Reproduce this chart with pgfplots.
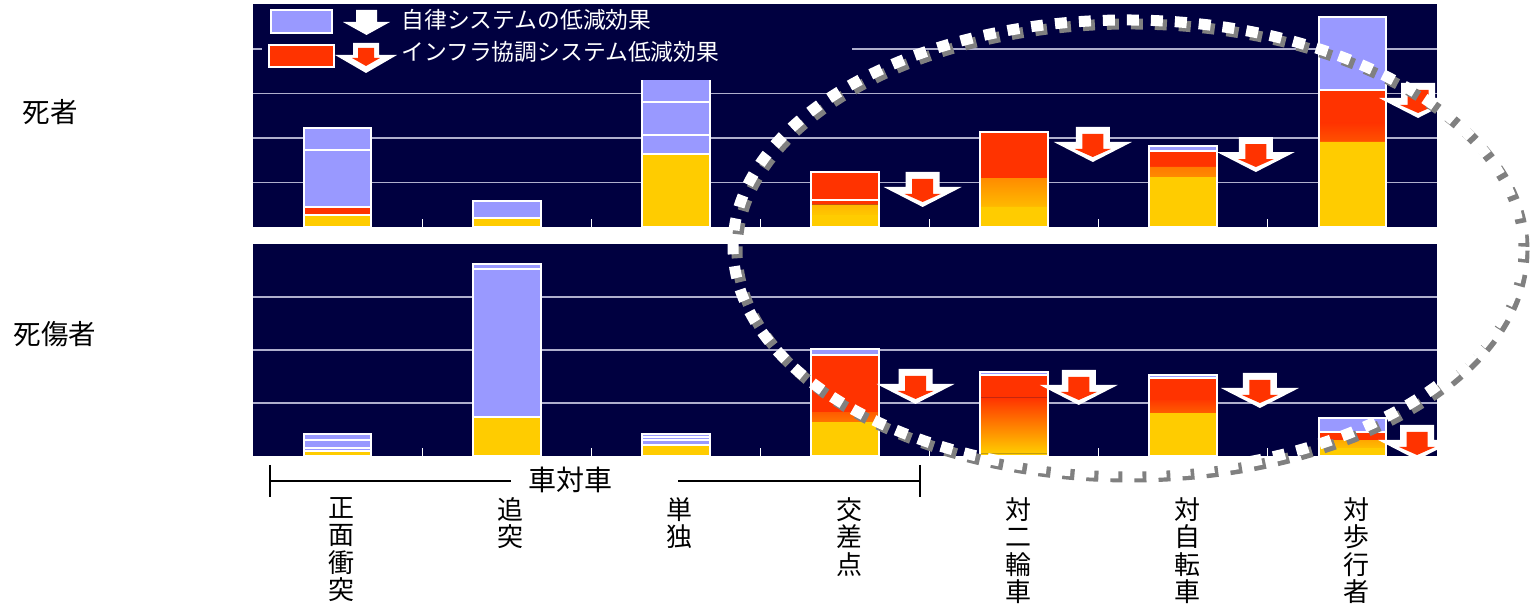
\documentclass[border=0pt]{standalone}
\usepackage{fontspec}
\setmainfont{Noto Sans CJK JP}
\usepackage{pgfplots}
\pgfplotsset{compat=1.18}
\usepackage{pgfplotstable}

\definecolor{navybg}{RGB}{0,0,64}
\definecolor{cyel}{RGB}{255,204,0}
\definecolor{cred}{RGB}{255,51,0}
\definecolor{clav}{RGB}{153,153,255}
\definecolor{cgrid}{RGB}{175,175,205}

% stacked segments: yellow, gradient (yellow->red), red, lavender
\pgfplotstableread{
x Y G R L
0 0.28 0.001 0.17 1.77
1 0.20 0.001 0 0.38
2 1.64 0.001 0 1.78
3 0.27 0.23 0.73 0
4 0.45 0.65 1.03 0
5 1.12 0.23 0.36 0.11
6 1.91 0.43 0.72 1.66
}\toptab
\pgfplotstableread{
x y
0 0.28
0 0.45
0 1.73
0 2.22
1 0.20
1 0.58
2 1.64
2 2.07
2 2.82
2 3.42
3 0.60
3 1.23
4 2.13
5 1.71
5 1.82
6 3.08
6 4.72
}\topout
\pgfplotstableread{
x Y G R L
0 0.09 0.001 0 0.32
1 0.74 0.001 0 2.88
2 0.21 0.001 0 0.20
3 0.64 0.19 1.08 0.11
4 0.05 1.05 0.43 0.05
5 0.81 0.25 0.41 0.06
6 0.15 0.15 0.15 0.27
}\bottab
\pgfplotstableread{
x y
0 0.09
0 0.15
0 0.30
0 0.41
1 0.74
1 3.53
1 3.62
2 0.21
2 0.30
2 0.36
2 0.41
3 1.91
3 2.02
4 1.53
4 1.58
5 1.47
5 1.53
6 0.45
6 0.72
}\botout

\pgfplotsset{
  panel/.style={scale only axis, width=592pt, anchor=south west,
    xmin=-0.5, xmax=6.5, ymin=0,
    axis background/.style={fill=navybg},
    axis line style={draw=none},
    ymajorgrids, grid style={cgrid, line width=0.8pt},
    yticklabels={},
    xtick={0,...,6}, minor xtick={0.5,1.5,...,5.5},
    major tick length=0pt, minor tick length=4pt, tick align=inside,
    minor tick style={white, line width=0.6pt},
    xtick pos=bottom, ytick pos=left,
    ybar stacked, bar width=0.4},
  outl/.style={scale only axis, width=592pt, anchor=south west,
    xmin=-0.5, xmax=6.5, ymin=0, hide axis,
    ybar, bar width=0.4, bar shift=0pt},
}

\newcommand\arrowcombo[2]{%
  \fill[white, shift={(axis cs:#1,#2)}] (-8.5pt,0pt) -- (8.5pt,0pt) -- (8.5pt,-7.5pt) -- (19.5pt,-7.5pt) -- (0pt,-17.5pt) -- (-19.5pt,-7.5pt) -- (-8.5pt,-7.5pt) -- cycle;
  \fill[cred, shift={(axis cs:#1,#2)}] (-5.25pt,-3.5pt) -- (5.25pt,-3.5pt) -- (5.25pt,-11pt) -- (9pt,-11pt) -- (0pt,-15pt) -- (-9pt,-11pt) -- (-5.25pt,-11pt) -- cycle;
}

\begin{document}
\begin{tikzpicture}
\useasboundingbox (0,0) rectangle (765pt,306.5pt);
\clip (0,0) rectangle (765pt,306.5pt);

% ---------- top panel (死者)
\begin{axis}[panel, at={(126.5pt,193pt)}, height=111.25pt, ymax=5, ytick={1,2,3,4}, xticklabels={}]
\addplot[fill=cyel, draw=none] table[x=x,y=Y]{\toptab};
\addplot[draw=none, bottom color=cyel, top color=cred] table[x=x,y=G]{\toptab};
\addplot[fill=cred, draw=none] table[x=x,y=R]{\toptab};
\addplot[fill=clav, draw=none] table[x=x,y=L]{\toptab};
\end{axis}
\begin{axis}[outl, at={(126.5pt,193pt)}, height=111.25pt, ymax=5]
\addplot[draw=white, fill=none, line width=1pt] table[x=x,y=y]{\topout};
\arrowcombo{3.459}{1.236}
\arrowcombo{4.465}{2.247}
\arrowcombo{5.429}{2.022}
\arrowcombo{6.388}{3.236}
\end{axis}

% ---------- bottom panel (死傷者)
\begin{axis}[panel, at={(126.5pt,78.5pt)}, height=106pt, ymax=4, ytick={1,2,3},
  xticklabels={{正\\面\\衝\\突},{追\\突},{単\\独},{交\\差\\点},{対\\二\\輪\\車},{対\\自\\転\\車},{対\\歩\\行\\者}},
  xticklabel style={anchor=north, align=center, inner sep=0pt, yshift=-20.5pt, xshift=2pt,
    text=black, font=\fontsize{13}{13.75}\selectfont}]
\addplot[fill=cyel, draw=none] table[x=x,y=Y]{\bottab};
\addplot[draw=none, bottom color=cyel, top color=cred] table[x=x,y=G]{\bottab};
\addplot[fill=cred, draw=none] table[x=x,y=R]{\bottab};
\addplot[fill=clav, draw=none] table[x=x,y=L]{\bottab};
\end{axis}
\begin{axis}[outl, at={(126.5pt,78.5pt)}, height=106pt, ymax=4]
\addplot[draw=white, fill=none, line width=1pt] table[x=x,y=y]{\botout};
\arrowcombo{3.417}{1.642}
\arrowcombo{4.382}{1.623}
\arrowcombo{5.453}{1.566}
\arrowcombo{6.382}{0.585}
\end{axis}

% ---------- annotations in pixel coordinates
\begin{scope}[x=0.5pt, y=-0.5pt, shift={(0pt,306.5pt)}]
  % legend
  \fill[navybg] (262,5) rectangle (852,80);
  \filldraw[fill=clav, draw=white, line width=1pt] (271,10) rectangle (332,33);
  \fill[white] (356,10) -- (377,10) -- (377,22) -- (390,22) -- (366.5,35) -- (343,22) -- (356,22) -- cycle;
  \filldraw[fill=cred, draw=white, line width=1pt] (269,45) rectangle (334,67);
  \fill[white] (353,43) -- (379,43) -- (379,55) -- (397,55) -- (366,73) -- (335,55) -- (353,55) -- cycle;
  \fill[cred] (358,48) -- (374,48) -- (374,58) -- (380,58) -- (366,66) -- (352,58) -- (358,58) -- cycle;
  \node[anchor=west, text=white, inner sep=0pt, font=\fontsize{11.4}{13}\selectfont] at (401,20) {自律システムの低減効果};
  \node[anchor=west, text=white, inner sep=0pt, font=\fontsize{11.4}{13}\selectfont] at (401,52) {インフラ協調システム低減効果};

  % row labels
  \node[font=\fontsize{13.75}{15}\selectfont] at (50,112) {死者};
  \node[font=\fontsize{13.75}{15}\selectfont] at (55,334) {死傷者};

  % bracket 車対車
  \draw[line width=0.8pt] (270,481) -- (511,481) (678,481) -- (920,481)
        (270,465) -- (270,497) (920,465) -- (920,497);
  \node[font=\fontsize{14}{15}\selectfont] at (570,480) {車対車};

  % dotted ellipse with shadow
  \draw[gray, line width=5.5pt, dash pattern=on 6pt off 6pt, xshift=2pt, yshift=-2pt]
       (1126.5,246.5) ellipse [x radius=393.5, y radius=226.5];
  \draw[white, line width=5.5pt, dash pattern=on 6pt off 6pt]
       (1126.5,246.5) ellipse [x radius=393.5, y radius=226.5];
\end{scope}
\end{tikzpicture}
\end{document}
